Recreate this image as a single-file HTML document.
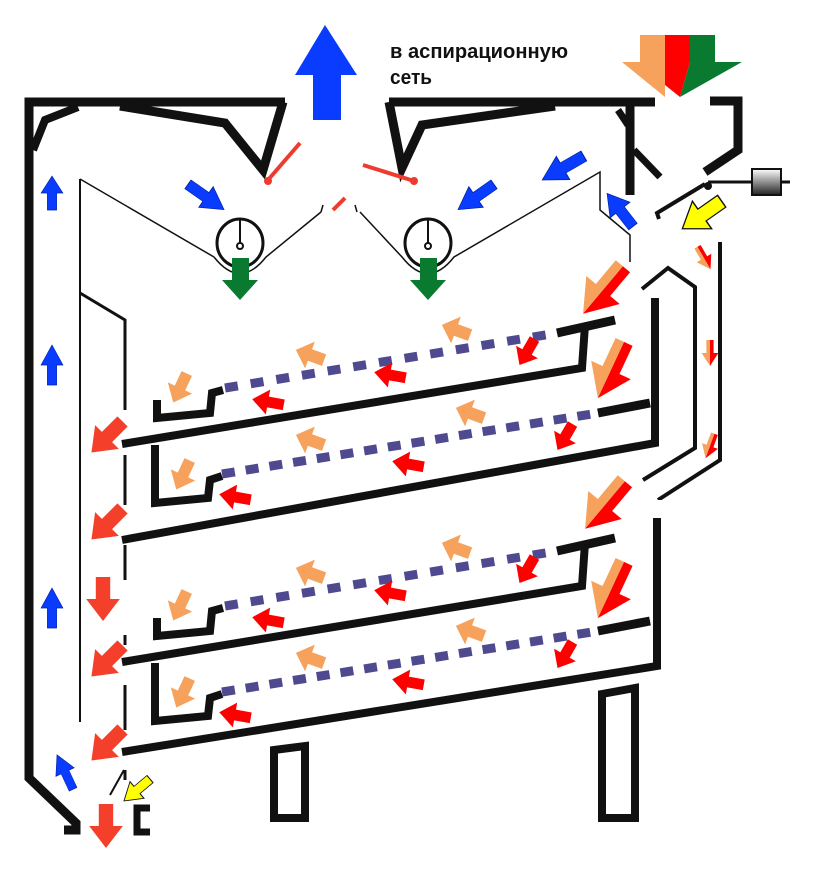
<!DOCTYPE html>
<html><head><meta charset="utf-8"><style>html,body{margin:0;padding:0;background:#fff}svg{display:block}</style></head>
<body>
<svg width="817" height="883" viewBox="0 0 817 883" xmlns="http://www.w3.org/2000/svg">
<defs>
<path id="ar" d="M-0.5,-0.18 L0,-0.18 L0,-0.42 L0.5,0 L0,0.42 L0,0.18 L-0.5,0.18Z"/>
<path id="arA" d="M-0.5,0 L-0.5,0.18 L0,0.18 L0,0.42 L0.5,0 Z"/>
<path id="arB" d="M-0.5,0 L-0.5,-0.18 L0,-0.18 L0,-0.42 L0.5,0 Z"/>
<g id="dual"><use href="#arA" fill="#f7a25c"/><use href="#arB" fill="#f00"/></g>
</defs>

<path d="M325,25 L357,75 L341,75 L341,120 L313,120 L313,75 L295,75Z" fill="#0a3cff"/>
<text x="390" y="58" font-family="Liberation Sans, sans-serif" font-size="20" font-weight="bold" fill="#111" textLength="178" lengthAdjust="spacingAndGlyphs">в аспирационную</text>
<text x="390" y="84" font-family="Liberation Sans, sans-serif" font-size="20" font-weight="bold" fill="#111" textLength="42" lengthAdjust="spacingAndGlyphs">сеть</text>

<path d="M640,35 L665,35 L665,97 L622,62 L640,62Z" fill="#f7a25c"/>
<path d="M690,35 L715,35 L715,62 L742,62 L680,97 L690,62Z" fill="#0a7a30"/>
<path d="M665,35 L690,35 L690,62 L680,97 L665,85Z" fill="#f00"/>

<g fill="none" stroke="#111" stroke-linejoin="miter">
<path d="M285,102 L29,102 L29,778 L76,823 L76,830 L64,830" stroke-width="9"/>
<path d="M33,150 L45,120 L78,107" stroke-width="8"/>
<path d="M120,106 L225,123 L263,170 L283,102" stroke-width="9"/>
<path d="M389,102 L655,102" stroke-width="9"/>
<path d="M389,102 L402,168 L422,125 L555,106" stroke-width="9"/>
<path d="M630,102 L630,195" stroke-width="9"/>
<path d="M618,110 L628,125" stroke-width="7"/>
<path d="M634,150 L660,177" stroke-width="7"/>
<path d="M710,101 L738,101 L738,150 L705,172" stroke-width="9"/>
<path d="M659,219 L657,213 L705,184" stroke-width="4"/>
<path d="M708,182 L790,182" stroke-width="3"/>
<path d="M720,242 L720,460 L658,500" stroke-width="4"/>
<path d="M642,289 L668,268 L695,287 L695,448 L643,480" stroke-width="4"/>
<path d="M80,179 L80,722" stroke-width="2"/>
<path d="M80,293 L125,320 L125,410" stroke-width="3"/>
<path d="M125,455 L125,505 M125,545 L125,580 M125,635 L125,645 M125,685 L125,730 M125,770 L125,780" stroke-width="3"/>
<path d="M124,770 L110,795" stroke-width="2"/>
<path d="M150,808 L137,808 L137,832 L150,832" stroke-width="7"/>
<path d="M80,179 L214,257" stroke-width="1.5"/>
<path d="M214,257 Q240,290 266,257 L321,212" stroke-width="1.5"/>
<path d="M360,212 L402,257 Q428,290 454,257 L600,172 L600,210 L630,235 L630,262" stroke-width="1.5"/>
<ellipse cx="240" cy="243" rx="23" ry="24" stroke-width="3"/>
<ellipse cx="428" cy="243" rx="23" ry="24" stroke-width="3"/>
<path d="M240,220 L240,243 M428,220 L428,243" stroke-width="2"/>
<circle cx="240" cy="246" r="3" stroke-width="2"/>
<circle cx="428" cy="246" r="3" stroke-width="2"/>
<path d="M321,212 L323,205 M357,212 L355,205" stroke-width="1.5"/>

<g>
<path d="M557,333 L615,320" stroke-width="9"/>
<path d="M585,325 L582,368 L122,444" stroke-width="8"/>
<path d="M157,400 L157,418 L210,413 L212,393 L223,390" stroke-width="8"/>
<path d="M598,413 L650,403" stroke-width="9"/>
<path d="M655,298 L655,443 L122,540" stroke-width="8"/>
<path d="M155,445 L155,503 L208,498 L210,480 L222,476" stroke-width="8"/>
<path d="M225,388 L557,333" stroke="#4f4a8f" stroke-width="9" stroke-dasharray="13 13"/>
<path d="M222,474 L598,413" stroke="#4f4a8f" stroke-width="9" stroke-dasharray="13 11"/>
</g>
</g>
<g fill="none" stroke="#111" transform="translate(0,218)">
<path d="M557,333 L615,320" stroke-width="9"/>
<path d="M585,325 L582,368 L122,444" stroke-width="8"/>
<path d="M157,400 L157,418 L210,413 L212,393 L223,390" stroke-width="8"/>
<path d="M598,413 L650,403" stroke-width="9"/>
<path d="M657,300 L657,448 L122,534" stroke-width="8"/>
<path d="M155,445 L155,503 L208,498 L210,480 L222,476" stroke-width="8"/>
<path d="M225,388 L557,333" stroke="#4f4a8f" stroke-width="9" stroke-dasharray="13 13"/>
<path d="M222,474 L598,413" stroke="#4f4a8f" stroke-width="9" stroke-dasharray="13 11"/>
</g>
<rect x="650" y="500" width="14" height="16" fill="#fff"/>

<path d="M274,750 L305,746 L305,818 L274,818Z" fill="none" stroke="#111" stroke-width="8"/>
<path d="M602,694 L635,688 L635,818 L602,818Z" fill="none" stroke="#111" stroke-width="8"/>

<path d="M268,180 L300,143" stroke="#ee3b2f" stroke-width="4"/>
<circle cx="268" cy="181" r="4" fill="#ee3b2f"/>
<path d="M363,165 L414,181" stroke="#ee3b2f" stroke-width="4"/>
<circle cx="414" cy="181" r="4" fill="#ee3b2f"/>
<path d="M333,210 L345,198" stroke="#ee3b2f" stroke-width="4"/>

<defs><linearGradient id="wg" x1="0" y1="0" x2="0" y2="1"><stop offset="0" stop-color="#fff"/><stop offset="1" stop-color="#222"/></linearGradient></defs>
<rect x="752" y="169" width="29" height="26" fill="url(#wg)" stroke="#111" stroke-width="2"/>
<circle cx="708" cy="186" r="4" fill="#111"/>

<path d="M232,258 L249,258 L249,280 L258,280 L240,300 L222,280 L232,280Z" fill="#0a7a30"/>
<path d="M420,258 L437,258 L437,280 L446,280 L428,300 L410,280 L420,280Z" fill="#0a7a30"/>

<g fill="#0a3cff" stroke="#0020a0" stroke-width="0.02">
<use href="#ar" transform="translate(52,193) rotate(-90) scale(34,26)"/>
<use href="#ar" transform="translate(52,365) rotate(-90) scale(40,26)"/>
<use href="#ar" transform="translate(52,608) rotate(-90) scale(40,26)"/>
<use href="#ar" transform="translate(65,772) rotate(-115) scale(38,24)"/>
<use href="#ar" transform="translate(206,197) rotate(35) scale(44,30)"/>
<use href="#ar" transform="translate(476,197) rotate(145) scale(44,30)"/>
<use href="#ar" transform="translate(563,168) rotate(150) scale(48,32)"/>
<use href="#ar" transform="translate(620,210) rotate(-128) scale(42,30)"/>
</g>
<g fill="#ff0" stroke="#111" stroke-width="0.03">
<use href="#ar" transform="translate(702,215) rotate(145) scale(48,40)"/>
<use href="#ar" transform="translate(137,790) rotate(140) scale(34,26)"/>
</g>

<use href="#dual" transform="translate(603,290) rotate(130) scale(62,52)"/>
<use href="#dual" transform="translate(611,370) rotate(115) scale(62,52)"/>
<use href="#dual" transform="translate(605,505) rotate(130) scale(62,52)"/>
<use href="#dual" transform="translate(611,590) rotate(115) scale(62,52)"/>
<use href="#dual" transform="translate(704,258) rotate(60) scale(26,20)"/>
<use href="#dual" transform="translate(710,353) rotate(90) scale(26,20)"/>
<use href="#dual" transform="translate(710,446) rotate(110) scale(26,20)"/>

<g fill="#f4402a">
<use href="#ar" transform="translate(107,437) rotate(135) scale(44,40)"/>
<use href="#ar" transform="translate(107,524) rotate(135) scale(44,40)"/>
<use href="#ar" transform="translate(103,599) rotate(90) scale(44,40)"/>
<use href="#ar" transform="translate(107,661) rotate(135) scale(44,40)"/>
<use href="#ar" transform="translate(107,745) rotate(135) scale(44,40)"/>
<use href="#ar" transform="translate(106,826) rotate(90) scale(44,40)"/>
</g>

<g id="sa">
<g fill="#f7a25c">
<use href="#ar" transform="translate(456,330) rotate(200) scale(30,34)"/>
<use href="#ar" transform="translate(310,355) rotate(200) scale(30,34)"/>
<use href="#ar" transform="translate(180,388) rotate(115) scale(32,32)"/>
<use href="#ar" transform="translate(470,413) rotate(200) scale(30,34)"/>
<use href="#ar" transform="translate(310,440) rotate(200) scale(30,34)"/>
<use href="#ar" transform="translate(183,475) rotate(115) scale(32,32)"/>
</g>
<g fill="#f00">
<use href="#ar" transform="translate(527,352) rotate(120) scale(30,30)"/>
<use href="#ar" transform="translate(390,375) rotate(190) scale(32,30)"/>
<use href="#ar" transform="translate(268,402) rotate(190) scale(32,30)"/>
<use href="#ar" transform="translate(565,437) rotate(120) scale(30,30)"/>
<use href="#ar" transform="translate(408,464) rotate(190) scale(32,30)"/>
<use href="#ar" transform="translate(235,497) rotate(190) scale(32,30)"/>
</g>
</g>
<use href="#sa" transform="translate(0,218)"/>
</svg>
</body></html>
